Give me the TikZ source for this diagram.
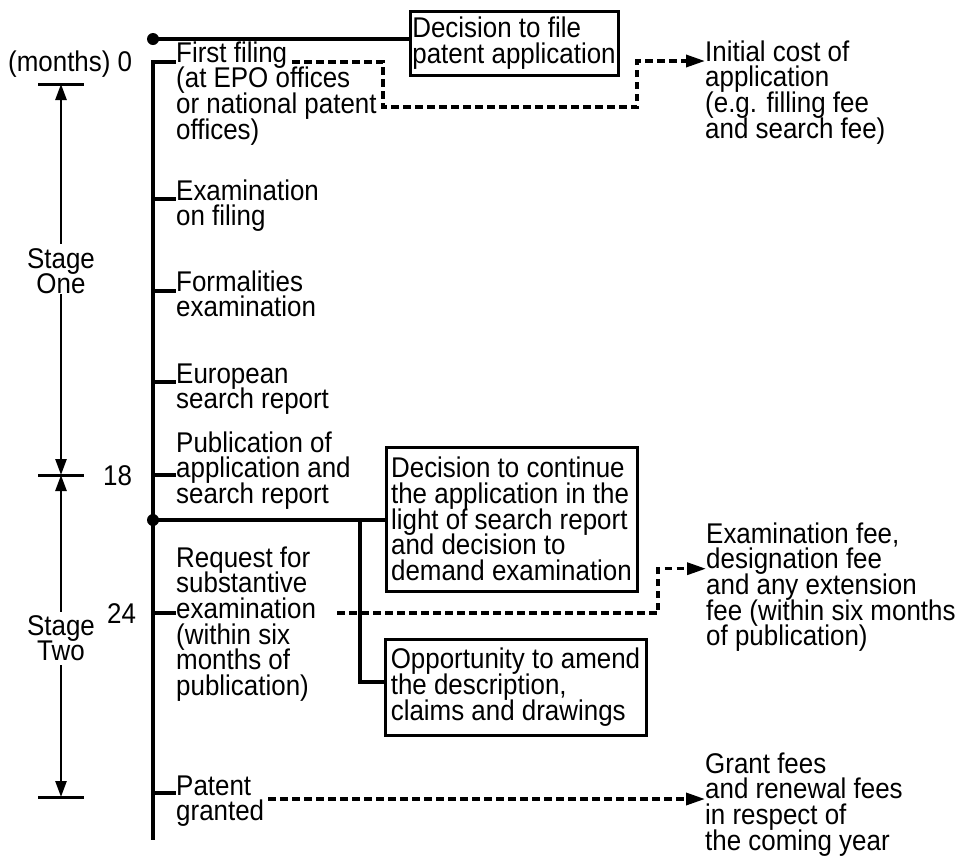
\documentclass[tikz,border=0pt]{standalone}
\usepackage{fontspec}
\setmainfont{Liberation Sans}[FakeStretch=0.91]
\usetikzlibrary{arrows.meta}

% text size and fixed line pitch used everywhere
\newcommand\fsz{\fontsize{28.5pt}{25.7pt}\selectfont}
% multi-line blocks whose baseline is the first line
\newcommand\linesL[1]{\vtop{\lineskiplimit=-100pt\baselineskip=25.7pt\halign{##\hfil\cr#1\crcr}}}
\newcommand\linesC[1]{\vtop{\lineskiplimit=-100pt\baselineskip=25.7pt\halign{\hfil##\hfil\cr#1\crcr}}}

\begin{document}
\begin{tikzpicture}[x=1pt,y=-1pt,font=\fsz,line cap=butt,
  txt/.style={inner sep=0pt,anchor=base west},
  ctr/.style={inner sep=0pt,anchor=base},
  mainline/.style={line width=3.1pt},
  scalebar/.style={line width=3pt},
  stagearrow/.style={line width=2.6pt,-{Triangle[length=16pt,width=11pt]}},
  feeline/.style={line width=3.4pt,dash pattern=on 7.5pt off 4.5pt,-{Triangle[length=19pt,width=12pt]}},
  fbox/.style={draw,line width=3pt,inner sep=0pt,anchor=north west},
  bullet/.style={circle,fill,inner sep=0pt,minimum size=12pt}]

\useasboundingbox (0,0) rectangle (961,860);

% ---- time scale on the left ----
\node[txt] (months) at (8,71) {(months) 0};
\node[txt] (m18) at (103,485) {18};
\node[txt] (m24) at (107,623) {24};
\node[ctr] (s1) at (61,268) {\linesC{Stage\cr One}};
\node[ctr] (s2) at (61,635) {\linesC{Stage\cr Two}};

\coordinate (b0) at (61,84);
\coordinate (b18) at (61,475);
\coordinate (bE) at (61,797);
\foreach \b in {b0,b18,bE}
  \draw[scalebar] ([xshift=-23pt]\b) -- ([xshift=23pt]\b);

\draw[stagearrow] ([yshift=4pt]s1.north) -- (b0);
\draw[stagearrow] (s1.south) -- (b18);
\draw[stagearrow] ([yshift=3pt]s2.north) -- (b18);
\draw[stagearrow] ([yshift=-4pt]s2.south) -- (bE);

% ---- procedure steps ----
\node[txt] (ff) at (176,62) {\linesL{First filing\cr (at EPO offices\cr or national patent\cr offices)}};
\node[txt] (eof) at (176,200) {\linesL{Examination\cr on filing}};
\node[txt] (fex) at (176,291) {\linesL{Formalities\cr examination}};
\node[txt] (esr) at (176,383) {\linesL{European\cr search report}};
\node[txt] (pub) at (176,452) {\linesL{Publication of\cr application and\cr search report}};
\node[txt] (req) at (176,567) {\linesL{Request for\cr substantive\cr examination\cr (within six\cr months of\cr publication)}};
\node[txt] (pg) at (176,795) {\linesL{Patent\cr granted}};

% timeline with its ticks
\coordinate (k1) at (153,62);
\coordinate (k2) at (153,199);
\coordinate (k3) at (153,291);
\coordinate (k4) at (153,382);
\coordinate (k5) at (153,475);
\coordinate (k6) at (153,613);
\coordinate (k7) at (153,793);
\coordinate (kEnd) at (153,840);
\draw[mainline] (k1 -| ff.west) -- (k1) -- (kEnd);
\draw[mainline] (k2) -- (k2 -| eof.west);
\draw[mainline] (k3) -- (k3 -| fex.west);
\draw[mainline] (k4) -- (k4 -| esr.west);
\draw[mainline] (k5) -- (k5 -| pub.west);
\draw[mainline] (k6) -- (k6 -| req.west);
\draw[mainline] (k7) -- (k7 -| pg.west);

% ---- decisions ----
\node[fbox,minimum width=208pt,minimum height=64pt] (dfile) at (408.5,9.5)
  {\linesL{Decision to file\cr patent application}};
\node[fbox,minimum width=251pt,minimum height=144pt] (dcont) at (384.5,445.5)
  {\linesL{Decision to continue\cr the application in the\cr light of search report\cr and decision to\cr demand examination}};
\node[fbox,minimum width=261pt,minimum height=96pt] (amend) at (383.5,637.5)
  {\linesL{Opportunity to amend\cr the description,\cr claims and drawings}};

\node[bullet] (p0) at (153,39) {};
\node[bullet] (p1) at (153,520) {};
\draw[mainline] (p0.center) -- (p0.center -| dfile.west);
\draw[mainline] (p1.center) -- (p1.center -| dcont.west);
\coordinate (br) at (360,520);
\coordinate (br2) at (360,682);
\draw[mainline] (br) -- (br2) -- (br2 -| amend.west);

% ---- costs ----
\node[txt] (cost) at (705,61) {\linesL{Initial cost of\cr application\cr (e.g. filling fee\cr and search fee)}};
\node[txt] (exfee) at (706,543) {\linesL{Examination fee,\cr designation fee\cr and any extension\cr fee (within six months\cr of publication)}};
\node[txt] (grant) at (705,773) {\linesL{Grant fees\cr and renewal fees\cr in respect of\cr the coming year}};

\coordinate (d1) at (292,62);
\coordinate (d2) at (337,613);
\coordinate (d3) at (268,799);
\draw[feeline] (d1) -- ++(91,0) -- ++(0,45) -- ++(254,0) |- (cost.base west);
\draw[feeline] (d2) -- ++(321,0) |- ([yshift=-25.7pt]exfee.base west);
\draw[feeline] (d3) -- (d3 -| grant.west);

\end{tikzpicture}
\end{document}
